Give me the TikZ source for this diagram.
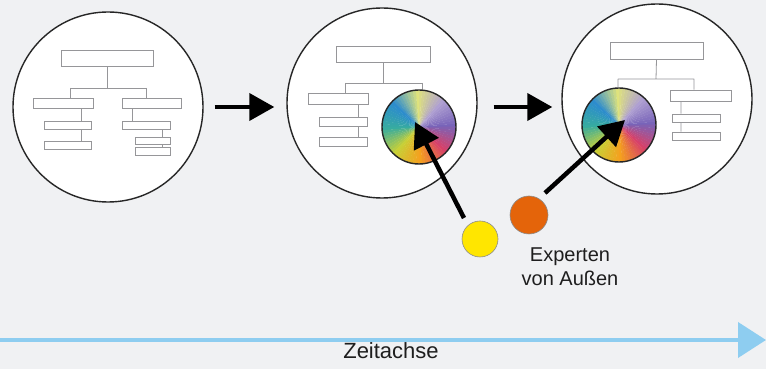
\documentclass[tikz,border=0pt]{standalone}
\usepackage{fontspec}
\setmainfont{Liberation Sans}
\usepackage{xcolor}
\usetikzlibrary{arrows.meta,positioning,calc}

\definecolor{bggray}{RGB}{240,241,243}
\definecolor{boxgray}{RGB}{150,150,153}
\definecolor{timeblue}{RGB}{142,205,240}
\definecolor{textgray}{RGB}{30,30,30}
\definecolor{expyellow}{RGB}{255,230,0}
\definecolor{exporange}{RGB}{228,100,10}
% colours of the hue wheel
\definecolor{wheelpurple}{RGB}{120,100,185}
\definecolor{wheellav}{RGB}{175,160,210}
\definecolor{wheelpale}{RGB}{222,226,125}
\definecolor{wheelblue}{RGB}{45,140,205}
\definecolor{wheelteal}{RGB}{55,172,160}
\definecolor{wheellime}{RGB}{200,208,55}
\definecolor{wheelorange}{RGB}{245,160,30}
\definecolor{wheelred}{RGB}{215,65,105}

\newcommand{\huewheel}[2]{% #1 centre, #2 radius
  \foreach \a/\ca/\cb in {0/wheelpurple/wheellav,45/wheellav/wheelpale,90/wheelpale/wheelblue,
      135/wheelblue/wheelteal,180/wheelteal/wheellime,225/wheellime/wheelorange,
      270/wheelorange/wheelred,315/wheelred/wheelpurple}{
    \foreach \i in {0,...,8}{
      \pgfmathtruncatemacro{\share}{100-\i*100/9}
      \fill[fill=\ca!\share!\cb] (#1) -- ++(\a+\i*5:#2)
        arc[start angle=\a+\i*5, delta angle=5.6, radius=#2] -- cycle;
    }
  }
}

\begin{document}
\begin{tikzpicture}[x=1pt,y=1pt,
  stage/.style={circle,draw=black!85,line width=1.4pt,fill=white,inner sep=0pt,minimum size=190pt},
  orgbox/.style 2 args={draw=boxgray,fill=white,line width=0.8pt,inner sep=0pt,
    minimum width=#1pt,minimum height=#2pt},
  orgline/.style={draw=boxgray,line width=0.8pt},
  wheel/.style={circle,draw=black!85,line width=1.4pt,inner sep=0pt,minimum size=74pt},
  expert/.style={circle,draw=black!45,line width=0.6pt,inner sep=0pt},
  push/.style={line width=4pt,-{Triangle[length=25pt,width=27pt]}},
  caption/.style={font=\fontsize{20}{24}\selectfont,text=textgray,inner sep=0pt}]

  % background
  \fill[bggray] (0,0) rectangle (766,369);
  \useasboundingbox (0,0) rectangle (766,369);

  % Stage 1: plain organisation
  \node[stage] (stage1) at (108,262) {};
  \node[orgbox={92}{16}] (t1) at (107,311) {};
  \node[orgbox={60}{10}] (t1l) at (63,266) {};
  \node[orgbox={59}{10}] (t1r) at (151.5,266) {};
  \node[orgbox={47}{8}] (t1l1) at (67.5,244) {};
  \node[orgbox={47}{8}] (t1l2) at (67.5,224) {};
  \node[orgbox={48}{8}] (t1r1) at (146,244) {};
  \node[orgbox={35}{7}] (t1r2) at (152.5,228.5) {};
  \node[orgbox={35}{8}] (t1r3) at (152.5,218) {};
  \coordinate (j1) at (107,281);
  \coordinate (j1l) at (70,281);
  \coordinate (j1r) at (146,281);
  \coordinate (v1l) at (81,0);
  \coordinate (v1r) at (132,0);
  \coordinate (v1s) at (162,0);
  \draw[orgline] (t1.south) -- (j1) (j1l) -- (j1r)
    (j1l) -- (j1l |- t1l.north) (j1r) -- (j1r |- t1r.north)
    (v1l |- t1l.south) -- (v1l |- t1l1.north) (v1l |- t1l1.south) -- (v1l |- t1l2.north)
    (v1r |- t1r.south) -- (v1r |- t1r1.north)
    (v1s |- t1r1.south) -- (v1s |- t1r2.north) (v1s |- t1r2.south) -- (v1s |- t1r3.north);

  % Stage 2: first expert joins
  \node[stage] (stage2) at (382,266) {};
  \node[orgbox={94}{16}] (t2) at (383,315) {};
  \node[orgbox={60}{11}] (t2l) at (338,270.5) {};
  \node[orgbox={48}{9}] (t2l1) at (343,247.5) {};
  \node[orgbox={48}{9}] (t2l2) at (343,227.5) {};
  \huewheel{419,242}{37}
  \node[wheel] (wheel2) at (419,242) {};
  \coordinate (j2) at (383,286);
  \coordinate (j2l) at (345,286);
  \coordinate (j2r) at (422,286);
  \coordinate (v2) at (358,0);
  \draw[orgline] (t2.south) -- (j2) (j2l) -- (j2r)
    (j2l) -- (j2l |- t2l.north) (j2r) -- (j2r |- wheel2.north)
    (v2 |- t2l.south) -- (v2 |- t2l1.north) (v2 |- t2l1.south) -- (v2 |- t2l2.north);

  % Stage 3: second expert joins
  \node[stage] (stage3) at (657,270) {};
  \node[orgbox={93}{17}] (t3) at (656.5,318.5) {};
  \node[orgbox={61}{11}] (t3r) at (700.5,273.5) {};
  \node[orgbox={48}{8}] (t3r1) at (696,251) {};
  \node[orgbox={48}{8}] (t3r2) at (696,233) {};
  \huewheel{619,244}{37}
  \node[wheel] (wheel3) at (619,244) {};
  \coordinate (j3) at (656,290);
  \coordinate (j3l) at (618,290);
  \coordinate (j3r) at (694,290);
  \coordinate (v3) at (681,0);
  \draw[orgline] (t3.south) -- (j3) (j3l) -- (j3r)
    (j3l) -- (j3l |- wheel3.north) (j3r) -- (j3r |- t3r.north)
    (v3 |- t3r.south) -- (v3 |- t3r1.north) (v3 |- t3r1.south) -- (v3 |- t3r2.north);

  % steps between the stages
  \draw[push,shorten <=11pt,shorten >=12pt] (stage1.east) -- (stage1.east -| stage2.west);
  \draw[push,shorten <=16pt,shorten >=9pt] (stage2.east |- stage1.east) -- (stage3.west |- stage1.east);

  % experts from outside
  \node[expert,fill=expyellow,minimum size=36pt] (yellow) at (480,130) {};
  \node[expert,fill=exporange,minimum size=38pt] (orange) at (529,154) {};
  \coordinate (yellowtail) at (464,151);
  \coordinate (orangetail) at (545,176);
  \draw[push,line width=4.5pt] (yellowtail) -- ([shift={(-4,5)}]wheel2.center);
  \draw[push,line width=4.5pt] (orangetail) -- ([shift={(6,5)}]wheel3.center);
  \node[caption,align=center,anchor=north] (experts) at (570,121) {Experten\\von Außen};

  % time axis
  \coordinate (axis0) at (-2,29);
  \coordinate (axis1) at (766,29);
  \draw[timeblue,line width=4pt,-{Triangle[length=28pt,width=35pt]}] (axis0) -- (axis1);
  \node[caption,font=\fontsize{22}{26}\selectfont,anchor=base] (axislabel) at (391,10) {Zeitachse};
\end{tikzpicture}
\end{document}
